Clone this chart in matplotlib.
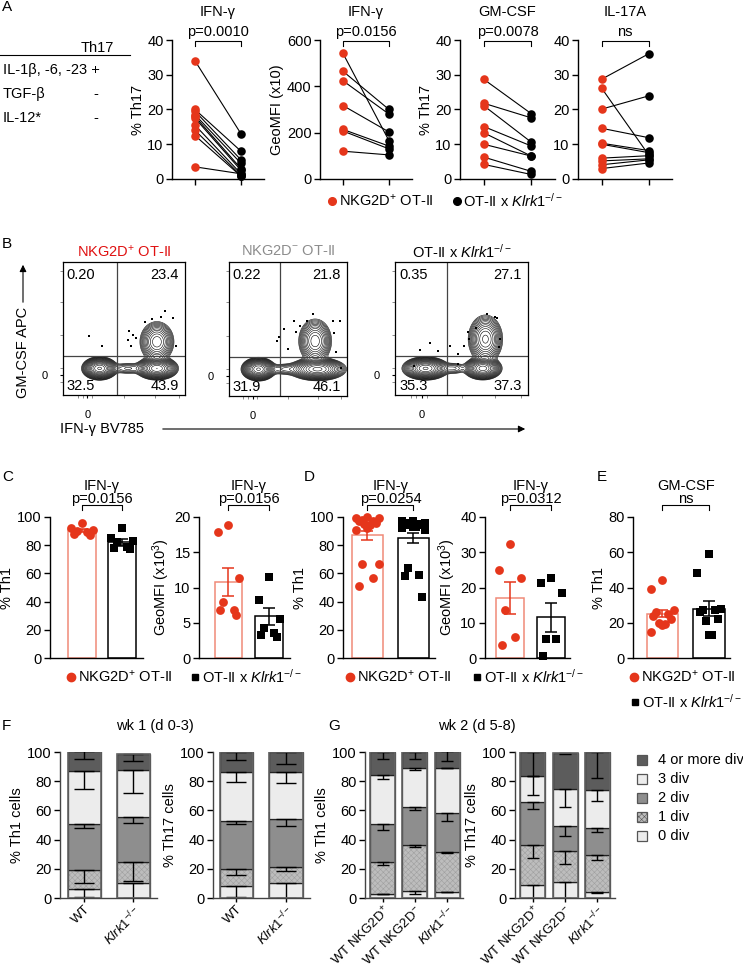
import numpy as np
import matplotlib.pyplot as plt
from matplotlib.patches import Rectangle

plt.rcParams['font.family'] = ['Liberation Sans', 'DejaVu Sans']
plt.rcParams['mathtext.fontset'] = 'custom'
plt.rcParams['mathtext.rm'] = 'Liberation Sans'
plt.rcParams['mathtext.it'] = 'Liberation Sans:italic'
plt.rcParams['mathtext.bf'] = 'Liberation Sans:bold'
plt.rcParams['font.size'] = 10.5
plt.rcParams['axes.linewidth'] = 1.0
plt.rcParams['hatch.linewidth'] = 0.4

RED = '#e5361b'
RED_BAR = '#f08a78'
W, H = 743, 971
KO = r'$\mathit{Klrk1}^{-/-}$'

# ---------------- A: paired values (NKG2D+ OT-II -> OT-II x Klrk1-/-)
a_titles = ['IFN-γ', 'IFN-γ', 'GM-CSF', 'IL-17A']
a_ylabels = ['% Th17', 'GeoMFI (x10)', '% Th17', '']
a_pvals = ['p=0.0010', 'p=0.0156', 'p=0.0078', 'ns']
a_ymax = [40, 600, 40, 40]
a_ystep = [10, 200, 10, 10]
a_red = [
    [34, 20, 19.5, 18.5, 18, 17.5, 15.5, 14, 12.5, 3.5],
    [542, 465, 424, 317, 214, 207, 120],
    [28.7, 21.8, 21.1, 15.1, 13.3, 10, 6.3, 4.2],
    [28.7, 26.2, 20.1, 14.6, 10.3, 10, 6, 5.2, 4.1, 3],
]
a_black = [
    [13, 8, 5.5, 4.5, 3, 2.5, 1.5, 1, 0.8, 1.5],
    [165, 300, 280, 203, 142, 130, 104],
    [18.8, 17.6, 10.6, 9.5, 6.6, 6.6, 2.2, 1.3],
    [36, 7, 23.9, 11.9, 8.2, 7.6, 6.7, 5.8, 5.5, 4.6],
]

# ---------------- B: flow plots
b_titles = [r'NKG2D$^{+}$ OT-II', r'NKG2D$^{-}$ OT-II', 'OT-II x ' + KO]
b_title_colors = ['#e01010', '#8c8c8c', 'black']
b_quadrants = [['0.20', '23.4', '32.5', '43.9'],
               ['0.22', '21.8', '31.9', '46.1'],
               ['0.35', '27.1', '35.3', '37.3']]
# populations: (x centre, y centre, x spread, y spread, weight), display units 0-1
b_pops = [
    [(0.30, 0.20, 0.05, 0.03, 1.0), (0.77, 0.20, 0.06, 0.03, 0.95),
     (0.77, 0.40, 0.055, 0.06, 0.3), (0.53, 0.20, 0.07, 0.022, 0.05)],
    [(0.25, 0.20, 0.05, 0.03, 1.0), (0.75, 0.20, 0.085, 0.03, 0.8),
     (0.73, 0.41, 0.055, 0.065, 0.3), (0.48, 0.20, 0.08, 0.022, 0.05)],
    [(0.23, 0.20, 0.06, 0.03, 1.0), (0.66, 0.20, 0.05, 0.03, 0.85),
     (0.68, 0.42, 0.05, 0.07, 0.35), (0.44, 0.20, 0.05, 0.022, 0.05)],
]
b_gates = [(0.44, 0.29), (0.43, 0.29), (0.39, 0.29)]
b_dots_x = [
    [0.21, 0.32, 0.54, 0.53, 0.57, 0.67, 0.80, 0.90, 0.84, 0.93, 0.56, 0.60, 0.73],
    [0.42, 0.41, 0.47, 0.50, 0.55, 0.60, 0.66, 0.71, 0.88, 0.94, 0.89, 0.95, 0.91, 0.57],
    [0.19, 0.26, 0.32, 0.41, 0.47, 0.47, 0.52, 0.55, 0.56, 0.61, 0.69, 0.75, 0.77, 0.79, 0.78, 0.14],
]
b_dots_y = [
    [0.44, 0.37, 0.48, 0.41, 0.45, 0.55, 0.59, 0.58, 0.63, 0.37, 0.37, 0.43, 0.57],
    [0.44, 0.41, 0.50, 0.35, 0.56, 0.52, 0.56, 0.61, 0.56, 0.56, 0.47, 0.21, 0.33, 0.48],
    [0.34, 0.39, 0.33, 0.37, 0.31, 0.23, 0.37, 0.47, 0.42, 0.50, 0.61, 0.59, 0.58, 0.42, 0.36, 0.22],
]

# ---------------- C/D/E: bars (mean, sem) with individual values
cde_titles = ['IFN-γ', 'IFN-γ', 'IFN-γ', 'IFN-γ', 'GM-CSF']
cde_ylabels = ['% Th1', r'GeoMFI (x10$^{3}$)', '% Th1', r'GeoMFI (x10$^{3}$)', '% Th1']
cde_pvals = ['p=0.0156', 'p=0.0156', 'p=0.0254', 'p=0.0312', 'ns']
cde_ymax = [100, 20, 100, 40, 80]
cde_ystep = [20, 5, 20, 10, 20]
cde_red = [
    [95.5, 92.5, 91, 90, 89.5, 88, 87.5],
    [18.8, 17.9, 11.3, 8.0, 6.8, 6.8, 6.1],
    [100, 99, 99, 98, 97, 97, 96, 95, 94, 92, 91, 67, 67, 57, 51],
    [32.3, 25, 22.8, 13.5, 6, 3.8],
    [44, 39, 27.5, 26, 25, 24, 22, 20, 19.5, 19, 14.8],
]
cde_black = [
    [92, 85, 83, 82, 79, 78, 77.5],
    [11.5, 8.2, 5.5, 4.2, 3.5, 3.2, 3.0],
    [97, 97, 96, 96, 95, 95, 94, 94, 93, 93, 92, 91, 64, 59, 58, 43],
    [22.6, 21.3, 18.4, 5.5, 5.5, 0.5],
    [58.8, 48, 28, 27.5, 27, 26, 22, 21, 13.3, 13],
]
cde_mean = [[90.5, 82], [10.8, 5.9], [87, 85], [17, 11.5], [25, 28]]
cde_sem = [[0.9, 2.4], [2.0, 1.2], [3.3, 3.5], [4.6, 4.0], [2.0, 4.4]]

# ---------------- F/G: division stacks, cumulative tops (0, 1, 2, 3, 4+ div) and error lows
div_names = ['0 div', '1 div', '2 div', '3 div', '4 or more div']
fg_groups = [['WT', KO], ['WT', KO],
             [r'WT NKG2D$^{+}$', r'WT NKG2D$^{-}$', KO],
             [r'WT NKG2D$^{+}$', r'WT NKG2D$^{-}$', KO]]
fg_ylabels = ['% Th1 cells', '% Th17 cells', '% Th1 cells', '% Th17 cells']
fg_tops = [
    [[6, 19.5, 50.5, 87, 100.5], [10, 25, 55.5, 88, 98.5]],
    [[8.5, 20, 52.5, 86.5, 100], [10, 21.5, 54, 86.5, 100]],
    [[3, 25, 50.5, 84.5, 100], [4.5, 36, 62.5, 89, 100], [3.8, 31.5, 58, 88.8, 100.8]],
    [[9.1, 36.5, 65.5, 83.8, 100], [10.7, 32, 49, 75, 99], [4.1, 29.5, 48, 74.2, 100]],
]
fg_lows = [
    [[1, 10, 48, 75, 95.5], [0, 11.5, 51.5, 72, 94]],
    [[0.5, 16, 50.5, 79.5, 94.5], [0, 18.5, 49, 79, 92]],
    [[2.5, 22.5, 46.5, 81.5, 95.5], [3, 35, 60.5, 88, 95.5], [3.8, 31, 52.5, 88.8, 94]],
    [[0, 27.4, 61, 70.5, 83.8], [0, 23.5, 42.2, 62.3, 98.9], [3.4, 26.3, 45, 66.7, 82]],
]
div_colors = ['#ececec', '#bdbdbd', '#8e8e8e', '#ececec', '#5c5c5c']

fig = plt.figure(figsize=(W / 100, H / 100), dpi=100)


def px_axes(l, t, r, b):
    return fig.add_axes([l / W, 1 - b / H, (r - l) / W, (b - t) / H])


def style(ax):
    ax.spines['top'].set_visible(False)
    ax.spines['right'].set_visible(False)
    ax.tick_params(length=4, width=1, labelsize=10.5, pad=2)


def bracket(ax, x0, x1, yb, yt, ytext, label):
    tr = ax.get_xaxis_transform()
    ax.plot([x0, x0, x1, x1], [yt, yb, yb, yt], color='k', lw=0.8,
            transform=tr, clip_on=False)
    ax.text((x0 + x1) / 2, ytext, label, transform=tr, ha='center',
            va='center', fontsize=10.5)


def spread(n, w):
    pat = np.array([0, -1, 1, -0.5, 0.5, -0.75, 0.75, -0.25, 0.25])
    return np.resize(pat, n) * w


# ---------------- panel A
a_box = [(172, 264), (320, 412), (460, 555), (578, 672)]
for i, (l, r) in enumerate(a_box):
    ax = px_axes(l, 40, r, 179)
    style(ax)
    red, blk = a_red[i], a_black[i]
    for y0, y1 in zip(red, blk):
        ax.plot([0, 1], [y0, y1], color='k', lw=0.8, zorder=2)
    ax.scatter(np.zeros(len(red)), red, s=38, color=RED, zorder=3, lw=0, clip_on=False)
    ax.scatter(np.ones(len(blk)), blk, s=38, color='k', zorder=3, lw=0, clip_on=False)
    ax.set_xlim(-0.5, 1.5)
    ax.set_ylim(0, a_ymax[i])
    ax.set_yticks(np.arange(0, a_ymax[i] + 1, a_ystep[i]))
    ax.set_xticks([0, 1])
    ax.set_xticklabels([])
    ax.set_ylabel(a_ylabels[i], fontsize=10.5, labelpad=2)
    bracket(ax, 0, 1, 0.993, 0.957, 1.06, a_pvals[i])
    ax.text(0.5, 1.2, a_titles[i], transform=ax.get_xaxis_transform(),
            ha='center', va='center', fontsize=10.5)

# ---------------- panel B
b_box = [(63, 262, 185, 395), (229, 262, 347, 396), (395, 262, 528, 395)]
gx = np.linspace(0, 1, 260)
GX, GY = np.meshgrid(gx, gx)
for i, (l, t, r, b) in enumerate(b_box):
    ax = px_axes(l, t, r, b)
    Z = np.zeros_like(GX)
    for cx, cy, sx, sy, w in b_pops[i]:
        Z += w * np.exp(-((GX - cx) ** 2 / (2 * sx ** 2) + (GY - cy) ** 2 / (2 * sy ** 2)))
    levels = np.geomspace(0.012, 0.95, 17)
    ax.contour(GX, GY, Z, levels=levels, colors='k', linewidths=0.4)
    ax.scatter(b_dots_x[i], b_dots_y[i], s=3, color='k', marker='s', lw=0)
    vx, hy = b_gates[i]
    ax.axvline(vx, color='#444444', lw=0.9)
    ax.axhline(hy, color='#444444', lw=0.9)
    ax.set_xlim(0, 1)
    ax.set_ylim(0, 1)
    for s in ax.spines.values():
        s.set_linewidth(0.9)
    ax.set_xticks([0.2])
    ax.set_xticklabels(['0'], fontsize=8)
    ax.set_yticks([0.15])
    ax.set_yticklabels(['0'], fontsize=8)
    ax.set_xticks([0.12, 0.16, 0.24, 0.5, 0.75, 0.95], minor=True)
    ax.set_yticks([0.1, 0.2, 0.45, 0.7, 0.93], minor=True)
    ax.tick_params(which='major', length=2)
    ax.tick_params(axis='x', which='major', pad=9)
    ax.tick_params(axis='y', which='major', pad=9)
    ax.tick_params(which='minor', length=2, width=0.6, color='#777777')
    q = b_quadrants[i]
    ax.text(0.03, 0.9, q[0], transform=ax.transAxes, ha='left', va='center', fontsize=10.5)
    ax.text(0.95, 0.9, q[1], transform=ax.transAxes, ha='right', va='center', fontsize=10.5)
    ax.text(0.03, 0.07, q[2], transform=ax.transAxes, ha='left', va='center', fontsize=10.5)
    ax.text(0.95, 0.07, q[3], transform=ax.transAxes, ha='right', va='center', fontsize=10.5)
    ax.text(0.5, 1.08, b_titles[i], transform=ax.transAxes, ha='center', va='center',
            fontsize=10.5, color=b_title_colors[i])

# ---------------- panels C, D, E
cde_box = [(50, 143, -0.8, 1.52, 0.7), (199, 290, -0.72, 1.51, 0.68),
           (343, 435, -0.53, 1.47, 0.67), (485, 570, -0.61, 1.46, 0.68),
           (633, 730, -0.63, 1.45, 0.67)]
for i, (l, r, x0, x1, bw) in enumerate(cde_box):
    ax = px_axes(l, 517, r, 658)
    style(ax)
    m, e = cde_mean[i], cde_sem[i]
    ax.bar([0, 1], m, width=bw, color='white', edgecolor=[RED_BAR, 'k'], lw=1.1, zorder=1)
    ax.errorbar([0], [m[0]], yerr=[e[0]], fmt='none', ecolor=RED, elinewidth=1.1,
                capsize=4.5, capthick=1.1, zorder=4)
    ax.errorbar([1], [m[1]], yerr=[e[1]], fmt='none', ecolor='k', elinewidth=1.1,
                capsize=4.5, capthick=1.1, zorder=4)
    red = np.sort(cde_red[i])[::-1]
    blk = np.sort(cde_black[i])[::-1]
    ax.scatter(0 + spread(len(red), bw * 0.38), red, s=40, color=RED, lw=0, zorder=3, clip_on=False)
    ax.scatter(1 + spread(len(blk), bw * 0.38), blk, s=34, color='k', marker='s', lw=0,
               zorder=3, clip_on=False)
    ax.set_xlim(x0, x1)
    ax.set_ylim(0, cde_ymax[i])
    ax.set_yticks(np.arange(0, cde_ymax[i] + 1, cde_ystep[i]))
    ax.set_xticks([])
    ax.set_ylabel(cde_ylabels[i], fontsize=10.5, labelpad=2)
    bracket(ax, 0, 1, 1.085, 1.05, 1.13, cde_pvals[i])
    ax.text(0.5, 1.22, cde_titles[i], transform=ax.get_xaxis_transform(),
            ha='center', va='center', fontsize=10.5)

# ---------------- panels F, G
fg_box = [(60, 157, -0.5, 1.48, 0.67, 7.5), (213, 310, -0.47, 1.48, 0.67, 7.5),
          (365, 463, -0.54, 2.48, 0.77, 4.5), (515, 615, -0.54, 2.54, 0.77, 4.5)]
for i, (l, r, x0, x1, bw, cap) in enumerate(fg_box):
    ax = px_axes(l, 752, r, 898)
    style(ax)
    ax.spines['left'].set_color('#444444')
    ax.spines['bottom'].set_color('#444444')
    tops = np.array(fg_tops[i])
    lows = np.array(fg_lows[i])
    xs = np.arange(len(tops))
    bottoms = np.hstack([np.zeros((len(tops), 1)), tops[:, :-1]])
    for k in range(5):
        if k == 1:
            ax.bar(xs, tops[:, k] - bottoms[:, k], bottom=bottoms[:, k], width=bw,
                   color=div_colors[k], hatch='xxxxxx', edgecolor='#a0a0a0', lw=0, zorder=1)
        ax.bar(xs, tops[:, k] - bottoms[:, k], bottom=bottoms[:, k], width=bw,
               color='none' if k == 1 else div_colors[k], edgecolor='#222222', lw=0.9,
               zorder=1)
        ax.errorbar(xs, tops[:, k], yerr=[tops[:, k] - lows[:, k], np.zeros(len(xs))],
                    fmt='none', ecolor='k', elinewidth=1, capsize=cap, capthick=1, zorder=2)
    ax.bar(xs, tops[:, -1], width=bw, color='none', edgecolor='#666666', lw=1.2, zorder=3)
    ax.set_xlim(x0, x1)
    ax.set_ylim(0, 100)
    ax.set_yticks(np.arange(0, 101, 20))
    ax.set_xticks(xs)
    ax.set_xticklabels(fg_groups[i], rotation=45, ha='right', rotation_mode='anchor',
                       fontsize=9.5)
    ax.tick_params(axis='x', pad=1, length=3)
    ax.set_ylabel(fg_ylabels[i], fontsize=10.5, labelpad=2)

# ---------------- overlay texts in pixel coordinates
ov = fig.add_axes([0, 0, 1, 1], zorder=10)
ov.set_xlim(0, W)
ov.set_ylim(H, 0)
ov.axis('off')


def txt(x, y, s, ha='left', **kw):
    ov.text(x, y, s, ha=ha, va='center', fontsize=kw.pop('fontsize', 10.5), **kw)


for lab, x, y in [('A', 2, 7), ('B', 2, 244), ('C', 2, 477), ('D', 304, 477),
                  ('E', 597, 477), ('F', 2, 726), ('G', 328, 726)]:
    txt(x, y, lab, fontsize=11)

# table of panel A
txt(97, 48, 'Th17', ha='center')
ov.plot([0, 130], [55, 55], color='k', lw=0.8)
txt(3, 70, 'IL-1β, -6, -23 +')
txt(3, 94, 'TGF-β')
txt(96, 94, '-', ha='center')
txt(3, 118, 'IL-12*')
txt(96, 118, '-', ha='center')

# legend A
ov.plot([332], [201], 'o', color=RED, ms=5.5)
txt(339, 201, r'NKG2D$^{+}$ OT-II')
ov.plot([457], [201], 'o', color='k', ms=5.5)
txt(463, 201, 'OT-II x ' + KO)

# axis labels of panel B
txt(23, 352, 'GM-CSF APC', ha='center', rotation=90)
ov.annotate('', xy=(23, 262), xytext=(23, 305),
            arrowprops=dict(arrowstyle='-|>', color='k', lw=0.8, mutation_scale=10))
txt(60, 429, 'IFN-γ BV785')
ov.annotate('', xy=(528, 429), xytext=(160, 429),
            arrowprops=dict(arrowstyle='-|>', color='k', lw=0.8, mutation_scale=10))

# legends C/D/E
for xr, xb, yb in [(71, 195, 677), (350, 477, 677), (634, 635, 702)]:
    yr = 677
    ov.plot([xr], [yr], 'o', color=RED, ms=6)
    txt(xr + 7, yr, r'NKG2D$^{+}$ OT-II')
    ov.plot([xb], [yb], 's', color='k', ms=5)
    txt(xb + 7, yb, 'OT-II x ' + KO)

# titles F/G
txt(155, 726, 'wk 1 (d 0-3)', ha='center')
txt(477, 726, 'wk 2 (d 5-8)', ha='center')

# legend G (top = 4 or more div)
for j, k in enumerate(range(4, -1, -1)):
    y = 760 + j * 19
    ov.add_patch(Rectangle((637, y - 5), 10, 10, facecolor=div_colors[k],
                           edgecolor='#555555', lw=0.9,
                           hatch='xxxxxx' if k == 1 else None))
    txt(658, y, div_names[k])

fig.savefig('out.png', dpi=100)
